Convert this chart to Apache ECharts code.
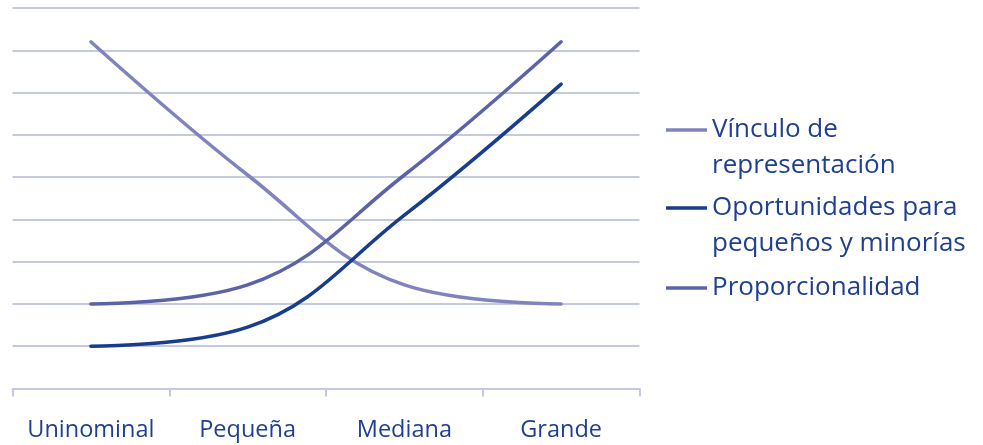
<!DOCTYPE html>
<html>
<head>
<meta charset="utf-8">
<script src="https://cdn.jsdelivr.net/npm/echarts@6/dist/echarts.min.js"></script>
<style>
  html, body { margin: 0; padding: 0; background: #fff; }
  #chart { width: 983px; height: 445px; }
</style>
</head>
<body>
<div id="chart"></div>
<script>
// Tipos de distrito (magnitud)
const categories = ['Uninominal', 'Pequeña', 'Mediana', 'Grande'];

// Valores relativos de cada criterio según la magnitud del distrito
const vinculo = [8.2, 5.05, 2.45, 2.0];
const oportunidades = [1.0, 1.45, 4.1, 7.2];
const proporcionalidad = [2.0, 2.45, 5.05, 8.2];

const names = ['Vínculo de representación', 'Oportunidades para pequeños y minorías', 'Proporcionalidad'];
// Legend labels broken over two lines; the leading blank line keeps
// the legend line beside the first line of text.
const wrapped = {
  'Vínculo de representación': '\nVínculo de\nrepresentación',
  'Oportunidades para pequeños y minorías': '\nOportunidades para\npequeños y minorías',
  'Proporcionalidad': 'Proporcionalidad'
};
const colors = ['#8084bd', '#173d8c', '#5a63a7'];

const FONT = '"Open Sans", "Noto Sans", sans-serif';
const TEXT = '#1f3f8f';
const GRID = '#c5c8e1';
const LH = 36;

function legendFor(i, iconY, lines) {
  const blockLines = lines > 1 ? lines + 1 : 1;
  return {
    data: [names[i]],
    left: 666,
    top: iconY - blockLines * LH / 2,
    padding: 0,
    orient: 'vertical',
    icon: 'rect',
    itemWidth: 41,
    itemHeight: 3.5,
    itemGap: 0,
    selectedMode: false,
    formatter: n => wrapped[n],
    textStyle: { color: TEXT, fontFamily: FONT, fontSize: 26, lineHeight: LH }
  };
}

const chart = echarts.init(document.getElementById('chart'), null, { renderer: 'canvas' });
chart.setOption({
  animation: false,
  backgroundColor: '#fff',
  grid: { left: 12.5, right: 343.5, top: 8, bottom: 56.5 },
  legend: [
    legendFor(0, 130, 2),
    legendFor(1, 208, 2),
    legendFor(2, 288, 1)
  ],
  xAxis: {
    type: 'category',
    data: categories,
    boundaryGap: true,
    axisLine: { show: true, lineStyle: { color: GRID, width: 2 } },
    axisTick: { show: true, interval: 0, length: 8, lineStyle: { color: GRID, width: 2 } },
    axisLabel: { interval: 0, color: TEXT, fontFamily: FONT, fontSize: 23.5, margin: 30, hideOverlap: false },
    splitLine: { show: false }
  },
  yAxis: {
    type: 'value',
    min: 0, max: 9, interval: 1,
    axisLine: { show: false },
    axisTick: { show: false },
    axisLabel: { show: false },
    splitLine: { show: true, lineStyle: { color: GRID, width: 2 } }
  },
  series: [
    { name: names[0], type: 'line', data: vinculo },
    { name: names[1], type: 'line', data: oportunidades },
    { name: names[2], type: 'line', data: proporcionalidad }
  ].map((s, i) => Object.assign(s, {
    smooth: 0.4,
    showSymbol: false,
    symbol: 'none',
    color: colors[i],
    lineStyle: { color: colors[i], width: 3.5, cap: 'round' },
    z: i === 1 ? 4 : 3
  }))
});
</script>
</body>
</html>
